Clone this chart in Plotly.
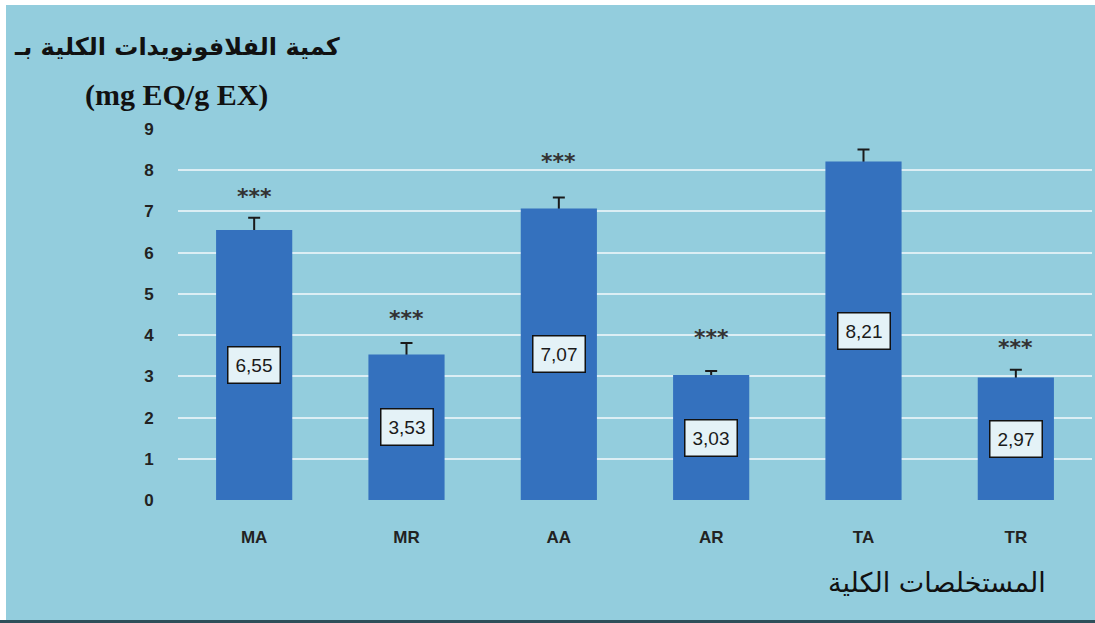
import plotly.graph_objects as go

categories = ["MA", "MR", "AA", "AR", "TA", "TR"]
values = [6.55, 3.53, 7.07, 3.03, 8.21, 2.97]
value_labels = ["6,55", "3,53", "7,07", "3,03", "8,21", "2,97"]
errors = [0.30, 0.28, 0.27, 0.10, 0.29, 0.19]
star_y = [7.45, 4.5, 8.3, 4.05, 9.3, 3.8]
star_text = ["***"] * 6
y_ticks = list(range(0, 10))

BG = "#93CDDD"
W, H = 1095, 623
ML, MR_, MT, MB = 178, 3, 129, 123
PW, PH = W - ML - MR_, H - MT - MB


def px(xp):
    return (xp - ML) / PW


def py(yp):
    return (H - yp - MB) / PH


fig = go.Figure()
# error bars (lower half hidden behind the opaque bars drawn after)
fig.add_trace(go.Bar(
    x=categories, y=values, width=0.5,
    marker=dict(color="rgba(0,0,0,0)", line=dict(width=0)),
    error_y=dict(type="data", array=errors, color="#1a1a1a", thickness=2, width=6),
    hoverinfo="skip",
))
fig.add_trace(go.Bar(
    x=categories, y=values, width=0.5,
    marker=dict(color="#3471BE", line=dict(width=0)),
))

for c, v, lab in zip(categories, values, value_labels):
    fig.add_annotation(x=c, y=v / 2, text=lab, showarrow=False,
                       font=dict(family="Liberation Sans", size=19, color="#1a1a1a"),
                       bgcolor="#E4F2F7", bordercolor="#111", borderwidth=1.5,
                       borderpad=7)

for c, sy, st in zip(categories, star_y, star_text):
    fig.add_annotation(x=c, y=sy, text=st, showarrow=False, yshift=-4,
                       font=dict(family="DejaVu Sans", size=22, color="#333", weight="bold"))

fig.add_annotation(xref="paper", yref="paper", x=px(342), y=py(47),
                   xanchor="right", yanchor="middle", showarrow=False,
                   text="كمية الفلافونويدات الكلية بـ",
                   font=dict(family="DejaVu Sans", size=24, color="#111", weight="bold"))
fig.add_annotation(xref="paper", yref="paper", x=px(176), y=py(95),
                   xanchor="center", yanchor="middle", showarrow=False,
                   text="(mg EQ/g EX)",
                   font=dict(family="Liberation Serif", size=30, color="#111", weight="bold"))
fig.add_annotation(xref="paper", yref="paper", x=px(1048), y=py(582),
                   xanchor="right", yanchor="middle", showarrow=False,
                   text="المستخلصات الكلية",
                   font=dict(family="DejaVu Sans", size=27, color="#111"))

fig.update_layout(
    width=W, height=H,
    margin=dict(l=ML, r=MR_, t=MT, b=MB),
    paper_bgcolor=BG, plot_bgcolor=BG,
    showlegend=False, barmode="overlay",
    xaxis=dict(showgrid=False, showline=False, zeroline=False,
               ticks="outside", ticklen=22, tickcolor="rgba(0,0,0,0)",
               tickfont=dict(family="Liberation Sans", size=17, color="#222", weight="bold")),
    yaxis=dict(range=[0, 9], tickvals=y_ticks, showgrid=True, gridcolor="#DCEEF4",
               gridwidth=2, zeroline=False, showline=False,
               ticks="outside", ticklen=20, tickcolor="rgba(0,0,0,0)",
               tickfont=dict(family="Liberation Sans", size=17, color="#222", weight="bold")),
    shapes=[
        dict(type="rect", xref="paper", yref="paper", x0=px(-10), x1=px(W + 10),
             y0=py(620), y1=py(H + 10), fillcolor="#2F4F5A", line=dict(width=0), layer="above"),
        dict(type="rect", xref="paper", yref="paper", x0=px(-10), x1=px(W + 10),
             y0=py(5), y1=py(-10), fillcolor="white", line=dict(width=0), layer="above"),
        dict(type="rect", xref="paper", yref="paper", x0=px(-10), x1=px(6),
             y0=py(620), y1=py(-10), fillcolor="white", line=dict(width=0), layer="above"),
    ],
)

fig.write_html("out.html", config={"displayModeBar": False},
               post_script="document.body.style.margin='0';document.body.style.overflow='hidden';")
